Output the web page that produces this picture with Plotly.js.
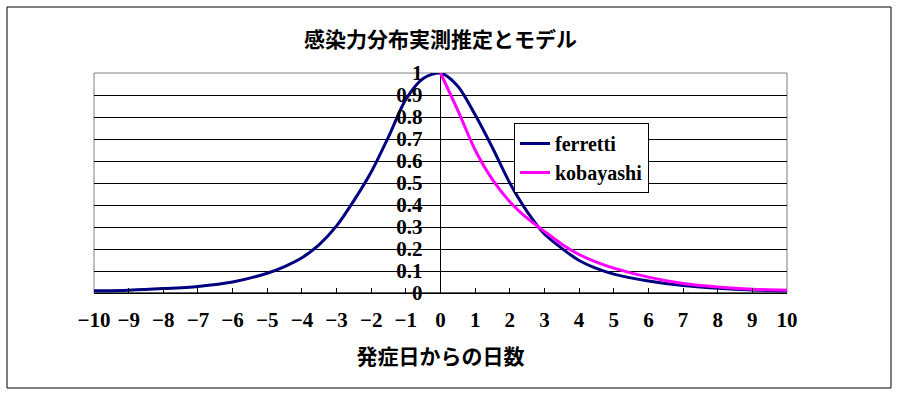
<!DOCTYPE html>
<html>
<head>
<meta charset="utf-8">
<script src="https://cdn.plot.ly/plotly-3.0.1.min.js"></script>
<style>
  html, body { margin: 0; padding: 0; background: #fff; }
  #chart { width: 897px; height: 395px; }
</style>
</head>
<body>
<div id="chart"></div>
<script>
// Data
const ferrettiX = [-10,-9,-8,-7,-6,-5,-4.5,-4,-3.5,-3,-2.5,-2,-1.5,-1,-0.5,0,0.5,1,1.5,2,2.5,3,3.5,4,4.5,5,6,7,8,9,10];
const ferrettiY = [0.01,0.013,0.02,0.03,0.05,0.09,0.12,0.16,0.22,0.305,0.42,0.55,0.71,0.88,0.975,1.0,0.94,0.81,0.66,0.50,0.37,0.268,0.203,0.148,0.112,0.086,0.055,0.034,0.022,0.014,0.01];
const kobayashiX = [0,0.5,1,1.5,2,2.5,3,3.5,4,4.5,5,6,7,8,9,10];
const kobayashiY = [1.0,0.83,0.65,0.515,0.415,0.34,0.28,0.222,0.175,0.14,0.113,0.072,0.043,0.027,0.017,0.013];
const xTickVals = [-10,-9,-8,-7,-6,-5,-4,-3,-2,-1,0,1,2,3,4,5,6,7,8,9,10];
const yTickVals = [0,0.1,0.2,0.3,0.4,0.5,0.6,0.7,0.8,0.9,1];
const yTickText = ['0','0.1','0.2','0.3','0.4','0.5','0.6','0.7','0.8','0.9','1'];
const titleText = '感染力分布実測推定とモデル';
const xTitleText = '発症日からの日数';

const numFont = {family: '"Liberation Serif", "Times New Roman", serif', size: 21, color: '#000', weight: 'bold'};
const cjkFont = {family: '"Noto Sans CJK JP", sans-serif', size: 21, color: '#000', weight: 'bold'};

const traces = [
  {x: ferrettiX, y: ferrettiY, name: 'ferretti', type: 'scatter', mode: 'lines',
   line: {color: '#000080', width: 3, shape: 'spline', smoothing: 0.8}},
  {x: kobayashiX, y: kobayashiY, name: 'kobayashi', type: 'scatter', mode: 'lines',
   line: {color: '#FF00FF', width: 3, shape: 'spline', smoothing: 0.8}}
];

const L = 94, R = 897 - 787, T = 73, B = 395 - 293;
const pw = 897 - L - R, ph = 395 - T - B;
const px = v => (v - L) / pw;
const py = v => (395 - B - v) / ph;

const layout = {
  width: 897, height: 395,
  margin: {l: L, r: R, t: T, b: B, pad: 0},
  paper_bgcolor: '#fff', plot_bgcolor: '#fff',
  showlegend: true,
  title: {text: titleText, x: 0.5, xref: 'paper', y: 1 - 40/395, yref: 'container', yanchor: 'middle',
          font: cjkFont},
  xaxis: {range: [-10, 10], tickmode: 'array', tickvals: xTickVals,
          ticks: 'inside', ticklen: 5, tickcolor: '#000', tickwidth: 1,
          showgrid: false, zeroline: true, zerolinecolor: '#000', zerolinewidth: 1,
          showline: false, tickfont: numFont, ticklabelstandoff: 12,
          title: {text: xTitleText, standoff: 18, font: cjkFont},
          fixedrange: true},
  yaxis: {range: [0, 1], tickmode: 'array', tickvals: yTickVals, ticktext: yTickText,
          anchor: 'free', position: 0.5, side: 'left',
          ticks: '', showgrid: true, gridcolor: '#000', gridwidth: 1,
          zeroline: true, zerolinecolor: '#000', zerolinewidth: 1,
          showline: false, tickfont: numFont, ticklabelstandoff: 18, fixedrange: true},
  legend: {x: px(514), y: py(123), xanchor: 'left', yanchor: 'top',
           bgcolor: '#fff', bordercolor: '#000', borderwidth: 1,
           font: {family: '"Liberation Serif", serif', size: 20, color: '#000', weight: 'bold'},
           tracegroupgap: 0, itemwidth: 30},
  shapes: [
    {type: 'rect', xref: 'paper', yref: 'paper', x0: 0, x1: 1, y0: 0, y1: 1,
     line: {color: '#808080', width: 1}, fillcolor: 'rgba(0,0,0,0)', layer: 'between'},
    {type: 'line', xref: 'paper', yref: 'paper', x0: 0, x1: 1, y0: 0, y1: 0,
     line: {color: '#000', width: 1}, layer: 'between'},
    {type: 'rect', xref: 'paper', yref: 'paper', x0: px(7), x1: px(891), y0: py(388), y1: py(7),
     line: {color: '#000', width: 1}, fillcolor: 'rgba(0,0,0,0)', layer: 'below'}
  ]
};

Plotly.newPlot('chart', traces, layout, {displayModeBar: false, staticPlot: true});
</script>
</body>
</html>
